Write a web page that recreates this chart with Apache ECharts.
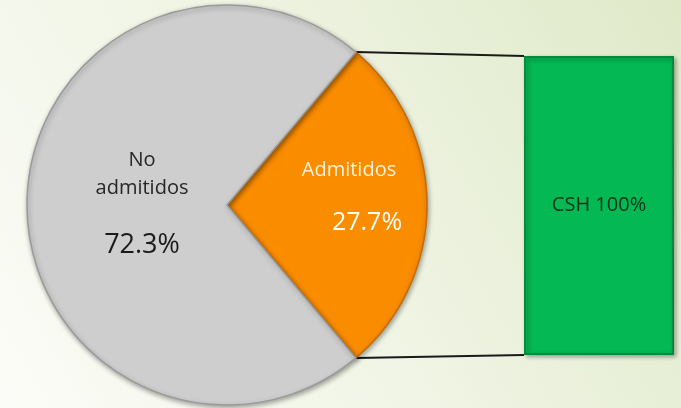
<!DOCTYPE html>
<html>
<head>
<meta charset="utf-8">
<script src="https://cdn.jsdelivr.net/npm/echarts@6/dist/echarts.min.js"></script>
<style>
  html, body { margin: 0; padding: 0; }
  #chart { width: 681px; height: 408px; }
</style>
</head>
<body>
<div id="chart"></div>
<script>
// pie data
const pieNames = ["Admitidos", "No admitidos"];
const pieValues = [27.7, 72.3];
const pieLabels = ["Admitidos", "No\nadmitidos"];
// bar (breakdown of Admitidos)
const barCategories = ["CSH"];
const barValues = [100];

// layout
const pieCenter = [227, 205];
const pieRadius = 200;
const barGrid = { left: 524, top: 56, width: 150, height: 299 };

const total = pieValues.reduce((a, b) => a + b, 0);
const halfAngle = (pieValues[0] / total) * 180; // orange slice centred on 3 o'clock

// connector lines from slice edge to bar corners
const rad = (halfAngle * Math.PI) / 180;
const edgeX = pieCenter[0] + pieRadius * Math.cos(rad);
const edgeTopY = pieCenter[1] - pieRadius * Math.sin(rad);
const edgeBotY = pieCenter[1] + pieRadius * Math.sin(rad);

const chart = echarts.init(document.getElementById("chart"));
const option = {
  animation: false,
  backgroundColor: {
    type: "linear",
    x: 0, y: 1, x2: 1, y2: 0,
    colorStops: [
      { offset: 0, color: "#fbfcf7" },
      { offset: 0.5, color: "#eff4e3" },
      { offset: 1, color: "#dfe9c8" },
    ],
  },
  textStyle: { fontFamily: "Open Sans" },
  grid: barGrid,
  xAxis: { type: "category", data: barCategories, show: false },
  yAxis: { type: "value", min: 0, max: 100, show: false },
  series: [
    {
      type: "pie",
      center: pieCenter,
      radius: pieRadius,
      startAngle: halfAngle,
      clockwise: true,
      silent: true,
      data: pieValues.map((v, i) => ({
        name: pieNames[i],
        value: v,
        itemStyle: i === 0
          ? { color: "#fa8c00", borderColor: "#c56c00", borderWidth: 1.5 }
          : { color: "#cecece", borderColor: "#9a9a9a", borderWidth: 1.5 },
        label: i === 0
          ? {
              offset: [19, 6],
              formatter: pieLabels[i] + "\n{p|" + v.toFixed(1) + "%}",
              color: "#fff2d6",
              fontSize: 20,
              lineHeight: 24,
              rich: { p: { fontSize: 25, color: "#ffffff", lineHeight: 82, padding: [0, 0, 0, 36] } },
            }
          : {
              offset: [18, 12],
              formatter: pieLabels[i] + "\n{p|" + v.toFixed(1) + "%}",
              color: "#262626",
              fontSize: 20,
              lineHeight: 28,
              rich: { p: { fontSize: 27, color: "#1a1a1a", lineHeight: 86 } },
            },
      })),
      label: { show: true, position: "inside" },
      labelLine: { show: false },
      itemStyle: {
        shadowBlur: 5,
        shadowOffsetY: 2,
        shadowOffsetX: 1,
        shadowColor: "rgba(0,0,0,0.35)",
      },
    },
    {
      type: "bar",
      data: barValues,
      barWidth: "100%",
      silent: true,
      itemStyle: {
        color: "#04b853",
        borderColor: "#038a3c",
        borderWidth: 2,
        shadowBlur: 4,
        shadowOffsetX: 2,
        shadowOffsetY: 2,
        shadowColor: "rgba(0,0,0,0.3)",
      },
      label: {
        show: true,
        position: "inside",
        formatter: (p) => p.name + " " + p.value + "%",
        color: "#0b3318",
        fontSize: 20,
      },
    },
  ],
  graphic: [
    {
      type: "line",
      silent: true,
      z: -1,
      shape: { x1: edgeX, y1: edgeTopY, x2: barGrid.left, y2: barGrid.top },
      style: { stroke: "#1a1a1a", lineWidth: 2 },
    },
    {
      type: "line",
      silent: true,
      z: -1,
      shape: { x1: edgeX, y1: edgeBotY, x2: barGrid.left, y2: barGrid.top + barGrid.height },
      style: { stroke: "#1a1a1a", lineWidth: 2 },
    },
  ],
};
chart.setOption(option);
</script>
</body>
</html>
